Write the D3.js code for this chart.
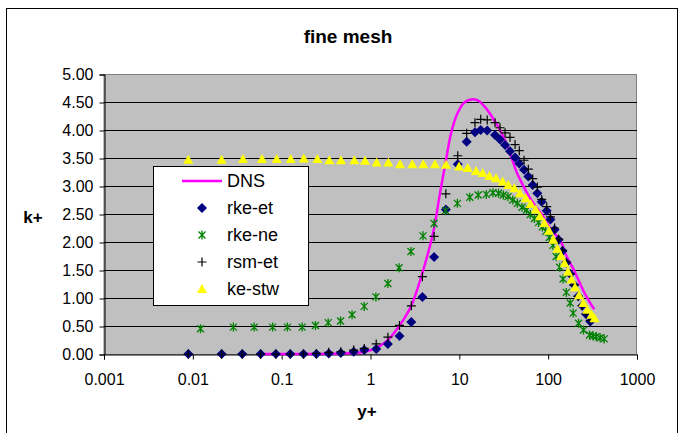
<!DOCTYPE html>
<html>
<head>
<meta charset="utf-8">
<script src="https://cdn.jsdelivr.net/npm/d3@7/dist/d3.min.js"></script>
<style>
  html, body { margin: 0; padding: 0; background: #fff; }
  svg { display: block; font-family: "Liberation Sans", Arial, sans-serif; }
</style>
</head>
<body>
<div id="chart"></div>
<script>
(function () {
  'use strict';

  // axis ticks
  var xTicks = [0.001, 0.01, 0.1, 1, 10, 100, 1000];
  var yTicks = [0, 0.5, 1, 1.5, 2, 2.5, 3, 3.5, 4, 4.5, 5];

  // DNS (line)
  var dnsY = [0.057, 0.1, 0.2, 0.35, 0.5, 0.7, 0.9, 1.2, 1.6, 2.0,
    2.5, 3.0, 3.6, 4.3, 5.2, 6.1, 7.0, 7.9, 8.9, 10.2,
    12.1, 14.3, 16.9, 19.9, 23.9, 28.7, 33.9, 39.0, 43.9, 51.8,
    61, 72, 85, 100, 115, 140, 160, 195, 228, 258,
    276, 300, 331];
  var dnsK = [0, 0, 0.001, 0.004, 0.01, 0.02, 0.05, 0.12, 0.26, 0.45,
    0.68, 0.93, 1.30, 1.72, 2.25, 2.90, 3.42, 3.88, 4.18, 4.39,
    4.52, 4.55, 4.51, 4.39, 4.21, 4.00, 3.76, 3.49, 3.26, 3.02,
    2.81, 2.64, 2.49, 2.30, 2.17, 2.00, 1.76, 1.50, 1.26, 1.08,
    1.00, 0.90, 0.80];

  // rke-et and rsm-et share the same y+ points
  var modelY = [0.0089, 0.0211, 0.036, 0.058, 0.086, 0.125, 0.176, 0.246, 0.339, 0.463,
    0.647, 0.85, 1.16, 1.57, 2.12, 2.88, 3.84, 5.2, 7.05, 9.6,
    12.1, 15.0, 17.4, 20.6, 25.2, 28.7, 32.7, 37.2, 42.4, 47.3,
    53.5, 59.8, 67.0, 75.5, 84.6, 96.3, 106, 118, 131, 145,
    160, 177, 196, 218, 242, 268, 298];
  var rkeEtK = [0, 0, 0, 0, 0, 0, 0, 0, 0.01, 0.02,
    0.04, 0.07, 0.09, 0.18, 0.32, 0.57, 1.02, 1.73, 2.58, 3.39,
    3.79, 3.96, 4.00, 3.99, 3.91, 3.83, 3.73, 3.62, 3.51, 3.40,
    3.29, 3.17, 3.02, 2.87, 2.72, 2.56, 2.40, 2.22, 2.04, 1.84,
    1.63, 1.43, 1.23, 1.03, 0.86, 0.71, 0.58];
  var rsmEtK = [0, 0, 0, 0, 0, 0, 0, 0.01, 0.03, 0.04,
    0.07, 0.10, 0.18, 0.30, 0.51, 0.86, 1.38, 2.10, 2.86, 3.54,
    3.94, 4.13, 4.19, 4.18, 4.13, 4.04, 3.95, 3.87, 3.74, 3.63,
    3.46, 3.30, 3.13, 2.98, 2.76, 2.63, 2.45, 2.25, 2.05, 1.85,
    1.64, 1.43, 1.23, 1.03, 0.86, 0.72, 0.60];

  var rkeNeY = [0.0122, 0.0286, 0.049, 0.079, 0.116, 0.17, 0.24, 0.334, 0.46, 0.62,
    0.85, 1.15, 1.57, 2.1, 2.85, 3.9, 5.2, 7.0, 9.5, 13.1,
    16.3, 20.1, 23.9, 27.6, 31.3, 35.3, 40.0, 45, 50.8, 57,
    63, 70, 78, 86, 94, 103, 113, 123, 135, 147,
    160, 177, 191, 220, 250, 292, 320, 348, 385, 427];
  var rkeNeK = [0.45, 0.48, 0.48, 0.48, 0.48, 0.48, 0.51, 0.56, 0.59, 0.70,
    0.85, 1.02, 1.26, 1.54, 1.83, 2.11, 2.33, 2.56, 2.69, 2.80,
    2.84, 2.85, 2.88, 2.87, 2.84, 2.81, 2.75, 2.69, 2.62, 2.57,
    2.49, 2.42, 2.35, 2.27, 2.19, 2.08, 1.94, 1.74, 1.55, 1.34,
    1.10, 0.91, 0.73, 0.55, 0.43, 0.34, 0.32, 0.31, 0.29, 0.27];

  var keStwY = [0.00889, 0.0211, 0.0367, 0.0601, 0.0879, 0.1265, 0.1773, 0.2519, 0.3437, 0.4656,
    0.6577, 0.8672, 1.175, 1.587, 2.148, 2.956, 3.931, 5.322, 7.08, 9.92,
    12.42, 15.41, 18.33, 21.77, 25.87, 30.77, 35.6, 41.6, 48.2, 55.9,
    63.6, 72.4, 80.9, 90.9, 102.3, 114.3, 126.8, 139.6, 152.9, 167.3,
    183.2, 200.6, 222.3, 248.8, 276, 307.6, 332.5];
  var keStwK = [3.47, 3.47, 3.48, 3.48, 3.48, 3.48, 3.49, 3.48, 3.46, 3.46,
    3.46, 3.45, 3.42, 3.42, 3.39, 3.39, 3.39, 3.39, 3.38, 3.35,
    3.32, 3.27, 3.23, 3.18, 3.14, 3.08, 3.02, 2.96, 2.87, 2.78,
    2.68, 2.58, 2.46, 2.34, 2.20, 2.04, 1.88, 1.75, 1.62, 1.47,
    1.33, 1.19, 1.05, 0.91, 0.79, 0.70, 0.64];

  var legendNames = ['DNS', 'rke-et', 'rke-ne', 'rsm-et', 'ke-stw'];

  var width = 680, height = 433;
  var plot = { left: 104, top: 74, right: 637, bottom: 354 };

  var svg = d3.select('#chart').append('svg')
    .attr('width', width)
    .attr('height', height);

  // outer chart border
  svg.append('rect')
    .attr('x', 6.5).attr('y', 8.5)
    .attr('width', 671).attr('height', 440)
    .attr('fill', '#fff')
    .attr('stroke', '#000');

  var x = d3.scaleLog().domain([0.001, 1000]).range([plot.left, plot.right]);
  var y = d3.scaleLinear().domain([0, 5]).range([plot.bottom, plot.top]);

  function zip(xs, ys) {
    return xs.map(function (v, i) { return { x: v, k: ys[i] }; });
  }

  // plot area
  svg.append('rect')
    .attr('x', plot.left).attr('y', plot.top + 0.5)
    .attr('width', plot.right - plot.left - 0.5)
    .attr('height', plot.bottom - plot.top)
    .attr('fill', '#c0c0c0')
    .attr('stroke', '#808080');

  // gridlines
  svg.append('g')
    .selectAll('line')
    .data(yTicks.filter(function (d) { return d > 0 && d < 5; }))
    .enter().append('line')
    .attr('x1', plot.left).attr('x2', plot.right)
    .attr('y1', function (d) { return Math.round(y(d)) + 0.5; })
    .attr('y2', function (d) { return Math.round(y(d)) + 0.5; })
    .attr('stroke', '#000');

  // y axis
  var yAxis = svg.append('g')
    .attr('transform', 'translate(' + (plot.left + 0.5) + ',0.5)')
    .call(d3.axisLeft(y).tickValues(yTicks).tickFormat(d3.format('.2f')).tickSize(5).tickPadding(6));
  yAxis.select('.domain').attr('stroke', '#000');
  yAxis.selectAll('text').attr('font-size', 16).attr('fill', '#000');

  // x axis
  var xAxis = svg.append('g')
    .attr('transform', 'translate(0,' + (plot.bottom + 0.5) + ')')
    .call(d3.axisBottom(x).tickValues(xTicks).tickFormat(function (d) { return String(d); }).tickSize(5).tickPadding(14));
  xAxis.select('.domain').attr('stroke', '#000');
  xAxis.selectAll('text').attr('font-size', 16).attr('fill', '#000');

  // titles
  svg.append('text')
    .attr('x', 348).attr('y', 43)
    .attr('text-anchor', 'middle')
    .attr('font-size', 19).attr('font-weight', 'bold')
    .text('fine mesh');

  svg.append('text')
    .attr('x', 33).attr('y', 223)
    .attr('text-anchor', 'middle')
    .attr('font-size', 17).attr('font-weight', 'bold')
    .text('k+');

  svg.append('text')
    .attr('x', 367).attr('y', 417)
    .attr('text-anchor', 'middle')
    .attr('font-size', 17).attr('font-weight', 'bold')
    .text('y+');

  // marker shapes
  var diamondPath = 'M0,-5L5,0L0,5L-5,0Z';
  var starPath = 'M-3.5,-3.5L3.5,3.5M-3.5,3.5L3.5,-3.5M0,-4.5L0,4.5';
  var plusPath = 'M-4.5,0L4.5,0M0,-4.5L0,4.5';
  var trianglePath = 'M0,-5L5,4L-5,4Z';

  var chartArea = svg.append('g');

  // DNS line
  var line = d3.line()
    .x(function (d) { return x(d.x); })
    .y(function (d) { return y(d.k); })
    .curve(d3.curveMonotoneX);

  chartArea.append('path')
    .datum(zip(dnsY, dnsK))
    .attr('d', line)
    .attr('fill', 'none')
    .attr('stroke', '#ff00ff')
    .attr('stroke-width', 2.5);

  function drawMarkers(data, path, fill, stroke, sw) {
    chartArea.append('g')
      .selectAll('path')
      .data(data)
      .enter().append('path')
      .attr('d', path)
      .attr('transform', function (d) { return 'translate(' + x(d.x) + ',' + y(d.k) + ')'; })
      .attr('fill', fill)
      .attr('stroke', stroke)
      .attr('stroke-width', sw);
  }

  drawMarkers(zip(modelY, rkeEtK), diamondPath, '#000080', 'none', 0);
  drawMarkers(zip(rkeNeY, rkeNeK), starPath, 'none', '#008000', 1.3);
  drawMarkers(zip(modelY, rsmEtK), plusPath, 'none', '#000', 1.2);
  drawMarkers(zip(keStwY, keStwK), trianglePath, '#ffff00', 'none', 0);

  // legend
  var legend = svg.append('g');
  legend.append('rect')
    .attr('x', 153.5).attr('y', 166.5)
    .attr('width', 155).attr('height', 139)
    .attr('fill', '#fff')
    .attr('stroke', '#000');

  var rows = legend.selectAll('g.row')
    .data(legendNames)
    .enter().append('g')
    .attr('class', 'row')
    .attr('transform', function (d, i) { return 'translate(0,' + (181 + i * 27) + ')'; });

  rows.append('text')
    .attr('x', 227).attr('y', 0)
    .attr('dy', '0.35em')
    .attr('font-size', 18)
    .text(function (d) { return d; });

  rows.filter(function (d) { return d === 'DNS'; })
    .append('line')
    .attr('x1', 182).attr('x2', 222)
    .attr('stroke', '#ff00ff').attr('stroke-width', 2.5);

  var legendMarks = {
    'rke-et': [diamondPath, '#000080', 'none', 0],
    'rke-ne': [starPath, 'none', '#008000', 1.3],
    'rsm-et': [plusPath, 'none', '#000', 1.2],
    'ke-stw': [trianglePath, '#ffff00', 'none', 0]
  };

  rows.filter(function (d) { return d !== 'DNS'; })
    .append('path')
    .attr('transform', 'translate(202,0)')
    .attr('d', function (d) { return legendMarks[d][0]; })
    .attr('fill', function (d) { return legendMarks[d][1]; })
    .attr('stroke', function (d) { return legendMarks[d][2]; })
    .attr('stroke-width', function (d) { return legendMarks[d][3]; });

})();
</script>
</body>
</html>
